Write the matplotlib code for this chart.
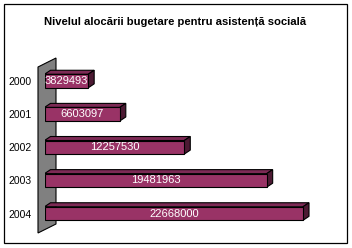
import matplotlib
matplotlib.use("Agg")
import matplotlib.pyplot as plt
from matplotlib.patches import Polygon, Rectangle
from matplotlib import font_manager

years = ["2000", "2001", "2002", "2003", "2004"]
values = [3829493, 6603097, 12257530, 19481963, 22668000]
title = "Nivelul alocării bugetare pentru asistență socială"

W, H = 352, 248
fig = plt.figure(figsize=(W / 100, H / 100), dpi=100)
fig.patch.set_facecolor("white")

installed = {f.name for f in font_manager.fontManager.ttflist}
has_narrow = "Liberation Sans Narrow" in installed
narrow = (["Liberation Sans Narrow"] if has_narrow else []) + ["Liberation Sans", "DejaVu Sans"]
regular = ["Liberation Sans", "DejaVu Sans"]
title_fs = 9 if has_narrow else 8.1
year_fs = 8.5 if has_narrow else 7.5

def px(x, y):
    return (x / W, 1 - y / H)

# outer border
fig.patches.append(Rectangle(px(4, 243), 343 / W, 239 / H, transform=fig.transFigure,
                             fill=False, edgecolor="black", linewidth=0.9, zorder=0))
# gray wall
wall = [px(38, 67), px(56, 58), px(56, 224), px(38, 233)]
fig.patches.append(Polygon(wall, closed=True, transform=fig.transFigure,
                           facecolor="#808080", edgecolor="black", linewidth=0.8, zorder=1))

fig.text(175.5 / W, 1 - 22 / H, title, ha="center", va="center", fontsize=title_fs,
         fontweight="bold", family=narrow)

xmax = 25.0e6
scale = 258.5 / 22668000  # px per unit
ax_w = xmax * scale
ax = fig.add_axes([44.5 / W, (248 - 230.1) / H, ax_w / W, 165.6 / H])
ax.set_zorder(5)
ax.set_xlim(0, xmax)
ax.set_ylim(len(years) - 0.5, -0.5)
ax.patch.set_alpha(0)
for s in ax.spines.values():
    s.set_visible(False)
ax.set_xticks([])
ax.set_yticks(range(len(years)))
ax.set_yticklabels(years, family=narrow, fontsize=year_fs)
ax.tick_params(axis="y", length=0, pad=9.5)

bh = 0.41
dx = 6 / scale
dy = 4 / 33.1
front_c = "#993366"
top_c = "#7d2a55"
side_c = "#4d1a33"

bars = ax.barh(range(len(years)), values, height=bh, color=front_c,
               edgecolor="black", linewidth=0.8, zorder=3)
for i, v in enumerate(values):
    yt = i - bh / 2
    yb = i + bh / 2
    top = [(0, yt), (v, yt), (v + dx, yt - dy), (dx, yt - dy)]
    side = [(v, yt), (v + dx, yt - dy), (v + dx, yb - dy), (v, yb)]
    ax.add_patch(Polygon(top, closed=True, facecolor=top_c, edgecolor="black",
                         linewidth=0.8, zorder=2))
    ax.add_patch(Polygon(side, closed=True, facecolor=side_c, edgecolor="black",
                         linewidth=0.8, zorder=2))
    ax.text(v / 2, i, str(v), ha="center", va="center", color="white",
            fontsize=8, family=regular, zorder=4)

fig.savefig("out.png", dpi=100)
